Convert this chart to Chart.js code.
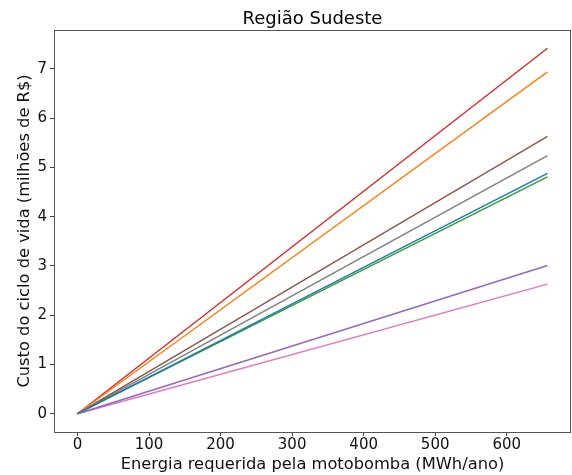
<!DOCTYPE html>
<html>
<head>
<meta charset="utf-8">
<script src="https://cdn.jsdelivr.net/npm/chart.js@4"></script>
<style>
    html, body { margin: 0; padding: 0; background: #fff; }
    #box { width: 572px; height: 475px; }
</style>
</head>
<body>
<div id="box"><canvas id="grafico"></canvas></div>
<script>
// dados
const energia = [0, 657];
const serieAzul = [0, 4.88];
const serieLaranja = [0, 6.94];
const serieVerde = [0, 4.81];
const serieVermelha = [0, 7.42];
const serieRoxa = [0, 3.01];
const serieMarrom = [0, 5.63];
const serieRosa = [0, 2.63];
const serieCinza = [0, 5.24];
const ticksX = [0, 100, 200, 300, 400, 500, 600];
const ticksY = [0, 1, 2, 3, 4, 5, 6, 7];

const series = [
    { valores: serieAzul, cor: '#1f77b4' },
    { valores: serieLaranja, cor: '#ff7f0e' },
    { valores: serieVerde, cor: '#2ca02c' },
    { valores: serieVermelha, cor: '#d62728' },
    { valores: serieRoxa, cor: '#9467bd' },
    { valores: serieMarrom, cor: '#8c564b' },
    { valores: serieRosa, cor: '#e377c2' },
    { valores: serieCinza, cor: '#7f7f7f' }
];

// margens de 5% como no matplotlib
const xMax = energia[energia.length - 1];
const yMax = Math.max(...series.map(s => Math.max(...s.valores)));

const fonte = "'DejaVu Sans', sans-serif";

// moldura nos quatro lados
const moldura = {
    id: 'moldura',
    afterDraw(chart) {
        const a = chart.chartArea;
        const ctx = chart.ctx;
        ctx.save();
        ctx.strokeStyle = '#555';
        ctx.lineWidth = 1;
        ctx.strokeRect(a.left + 0.5, a.top + 0.5, a.right - a.left - 1, a.bottom - a.top);
        ctx.restore();
    }
};

const ctx = document.getElementById('grafico').getContext('2d');
new Chart(ctx, {
    type: 'line',
    data: {
        datasets: series.map(s => ({
            data: energia.map((x, i) => ({ x: x, y: s.valores[i] })),
            borderColor: s.cor,
            backgroundColor: s.cor,
            borderWidth: 1.4,
            pointRadius: 0,
            tension: 0
        }))
    },
    options: {
        responsive: true,
        maintainAspectRatio: false,
        animation: false,
        layout: { padding: { left: 15, right: 1, top: 0, bottom: 0 } },
        plugins: {
            legend: { display: false },
            tooltip: { enabled: false }
        },
        scales: {
            // eixo de cima so para o titulo, centrado sobre a area do grafico
            topo: {
                type: 'linear',
                position: 'top',
                min: -0.05 * xMax,
                max: 1.05 * xMax,
                afterFit: (scale) => { scale.height = 30; },
                grid: { display: false },
                border: { display: false },
                ticks: { display: false },
                title: {
                    display: true,
                    text: 'Região Sudeste',
                    color: '#000',
                    font: { family: fonte, size: 18 },
                    padding: { top: 9, bottom: 0 }
                }
            },
            x: {
                type: 'linear',
                min: -0.05 * xMax,
                max: 1.05 * xMax,
                afterBuildTicks: (scale) => { scale.ticks = ticksX.map(v => ({ value: v })); },
                afterFit: (scale) => { scale.height = 43; },
                grid: { display: true, drawOnChartArea: false, drawTicks: true, tickLength: 4, color: '#444' },
                border: { display: false },
                ticks: { color: '#111', font: { family: fonte, size: 15 }, padding: 0, maxRotation: 0 },
                title: {
                    display: true,
                    text: 'Energia requerida pela motobomba (MWh/ano)',
                    color: '#111',
                    font: { family: fonte, size: 16.3 },
                    padding: { top: 0, bottom: 0 }
                }
            },
            y: {
                type: 'linear',
                min: -0.05 * yMax,
                max: 1.05 * yMax,
                afterBuildTicks: (scale) => { scale.ticks = ticksY.map(v => ({ value: v })); },
                afterFit: (scale) => { scale.width = 39; },
                grid: { display: true, drawOnChartArea: false, drawTicks: true, tickLength: 4, color: '#444' },
                border: { display: false },
                ticks: { color: '#111', font: { family: fonte, size: 15 }, padding: 3 },
                title: {
                    display: true,
                    text: 'Custo do ciclo de vida (milhões de R$)',
                    color: '#111',
                    font: { family: fonte, size: 16.3 },
                    padding: { top: 0, bottom: 4 }
                }
            }
        }
    },
    plugins: [moldura]
});
</script>
</body>
</html>
